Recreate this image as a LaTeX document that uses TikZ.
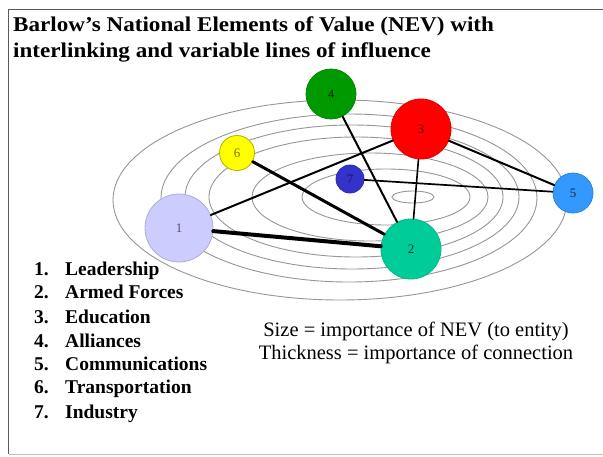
\documentclass[tikz,border=0pt]{standalone}
\usepackage{fontspec}
\setmainfont{Liberation Serif}
\definecolor{cA}{RGB}{204,204,255}
\definecolor{cB}{RGB}{0,204,153}
\definecolor{cC}{RGB}{255,0,0}
\definecolor{cD}{RGB}{0,153,0}
\definecolor{cE}{RGB}{51,153,255}
\definecolor{cF}{RGB}{255,255,0}
\definecolor{cG}{RGB}{51,51,204}
\definecolor{ellgray}{RGB}{150,150,150}
\begin{document}
\begin{tikzpicture}[x=1pt,y=-1pt,
  ell/.style={draw=ellgray,line width=0.9},
  nev/.style={circle,inner sep=0,line width=0.8,font=\fontsize{13}{13}\selectfont},
  link/.style={draw=black,line cap=round},
  titletext/.style={anchor=base west,inner sep=0,font=\fontsize{21}{24}\selectfont\bfseries},
  legnum/.style={anchor=base west,inner sep=0,font=\fontsize{19.5}{22}\selectfont\bfseries},
  legtext/.style={anchor=base west,inner sep=0,font=\fontsize{19.5}{22}\selectfont\bfseries},
  note/.style={anchor=base,inner sep=0,font=\fontsize{20.5}{23}\selectfont}]
\useasboundingbox (0,0) rectangle (603,456);
\fill[white] (0,0) rectangle (603,456);
% frame
\draw[black!65,line width=1.5] (603,9.5) -- (8.5,9.5) -- (8.5,454);
\draw[black!25,line width=1] (8.5,454) -- (603,454);
% title
\node[titletext] (t1) at (13,31) {\scalebox{1.1}[1]{Barlow’s National Elements of Value (NEV) with}};
\node[titletext] (t2) at (13,57) {\scalebox{1.1}[1]{interlinking and variable lines of influence}};
% ellipses
\draw[ell] (340,200) ellipse [x radius=227,y radius=100];
\draw[ell] (349,198) ellipse [x radius=188,y radius=84];
\draw[ell] (352,197) ellipse [x radius=167,y radius=72];
\draw[ell] (356,197) ellipse [x radius=147,y radius=60];
\draw[ell] (370,197) ellipse [x radius=118,y radius=44];
\draw[ell] (386,197) ellipse [x radius=84,y radius=28];
\draw[ell] (413,197) ellipse [x radius=21,y radius=6];
% nodes
\node[nev,minimum size=68,fill=cA,draw=cA!85!black,text=cA!40!black] (n1) at (179,228) {1};
\node[nev,minimum size=60,fill=cB,draw=cB!90!black,text=cB!25!black] (n2) at (411,249) {2};
\node[nev,minimum size=60,fill=cC,draw=cC!90!black,text=cC!35!black] (n3) at (421,129) {3};
\node[nev,minimum size=50,fill=cD,draw=cD!90!black,text=cD!30!black] (n4) at (331,94) {4};
\node[nev,minimum size=40,fill=cE,draw=cE!85!black,text=cE!30!black] (n5) at (573,193) {5};
\node[nev,minimum size=35,fill=cF,draw=cF!70!black,text=cF!45!black] (n6) at (237,153) {6};
\node[nev,minimum size=28,fill=cG,draw=cG!85!black,text=cG!45!black] (n7) at (350,179) {7};
% links
\draw[link,line width=4] (n1) -- (n2);
\draw[link,line width=3] (n6) -- (n2);
\draw[link,line width=2] (n1) -- (n3);
\draw[link,line width=2] (n4) -- (n2);
\draw[link,line width=1.6] (n3) -- (n2);
\draw[link,line width=2] (n3) -- (n5);
\draw[link,line width=1.7] (n7) -- (n5);
% legend
\node[legnum] (l1) at (34,275) {1.};
\node[legtext] (m1) at (65,275) {Leadership};
\node[legnum] (l2) at (34,298) {2.};
\node[legtext] (m2) at (65,298) {Armed Forces};
\node[legnum] (l3) at (34,323) {3.};
\node[legtext] (m3) at (65,323) {Education};
\node[legnum] (l4) at (34,347) {4.};
\node[legtext] (m4) at (65,347) {Alliances};
\node[legnum] (l5) at (34,370) {5.};
\node[legtext] (m5) at (65,370) {Communications};
\node[legnum] (l6) at (34,393) {6.};
\node[legtext] (m6) at (65,393) {Transportation};
\node[legnum] (l7) at (34,418) {7.};
\node[legtext] (m7) at (65,418) {Industry};
% notes
\node[note] (s1) at (416,336) {Size = importance of NEV (to entity)};
\node[note] (s2) at (416,359) {Thickness = importance of connection};
\end{tikzpicture}
\end{document}
